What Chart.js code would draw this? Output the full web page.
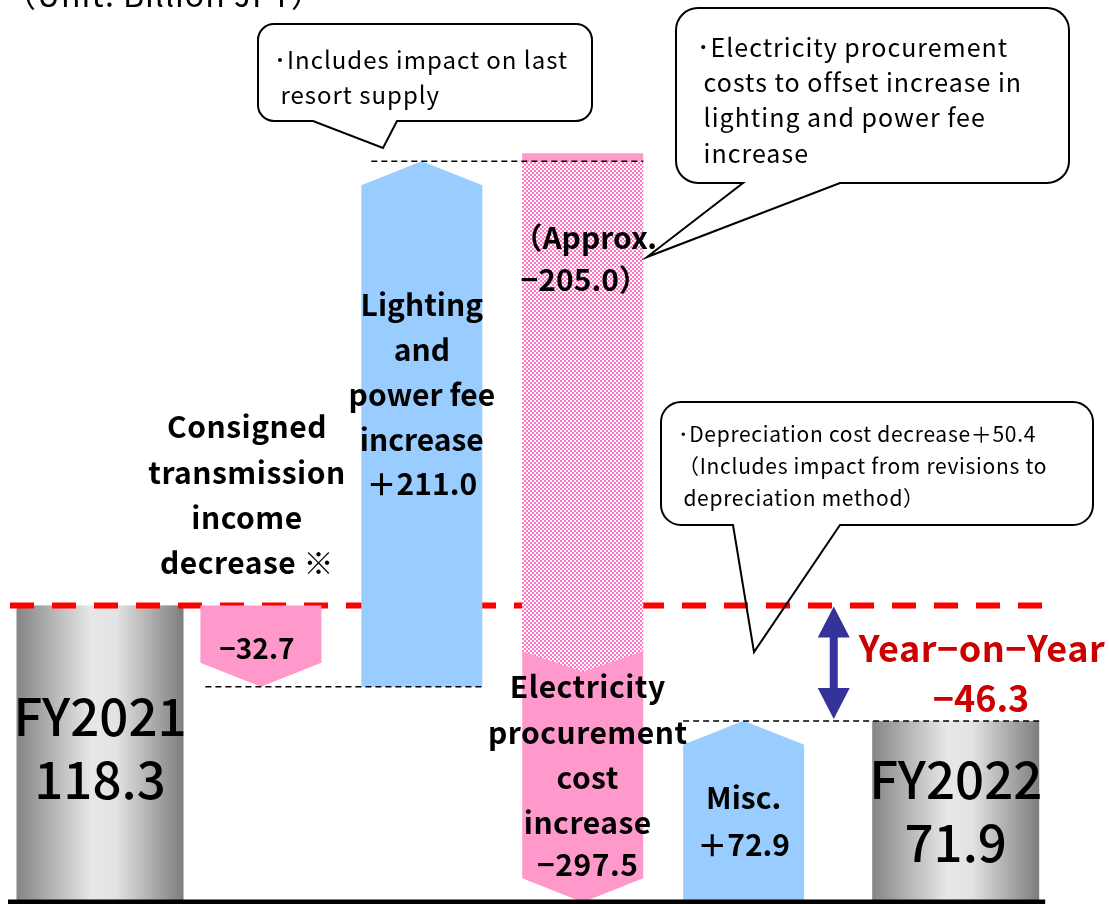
<!DOCTYPE html>
<html>
<head>
<meta charset="utf-8">
<script src="https://cdn.jsdelivr.net/npm/chart.js@4"></script>
<style>
    html, body { margin: 0; padding: 0; background: #ffffff; }
    #wrap { width: 1109px; height: 904px; }
</style>
</head>
<body>
<div id="wrap"><canvas id="chart" width="1109" height="904"></canvas></div>
<script>
// Data (Billion JPY)
const categories = ['FY2021', 'Consigned transmission income decrease', 'Lighting and power fee increase',
    'Electricity procurement cost increase', 'Misc.', 'FY2022'];
const totalValues = [118.3, null, null, null, null, 71.9];
const changeValues = [null, -32.7, 211.0, -297.5, 72.9, null];
const offsetValue = -205.0;   // approx. share of procurement cost offset by fee increase
const yearOnYear = -46.3;

// Text shown on / next to the bars
const barLabels = [
    ['FY2021', '118.3'],
    ['−32.7'],
    ['Lighting', 'and', 'power fee', 'increase', '＋211.0'],
    ['Electricity', 'procurement', 'cost', 'increase', '−297.5'],
    ['Misc.', '＋72.9'],
    ['FY2022', '71.9']
];
const sideLabel = ['Consigned', 'transmission', 'income', 'decrease ※'];
const offsetLabel = ['（Approx.', '−205.0）'];
const yoyLabel = ['Year−on−Year', '−46.3'];
const unitLabel = '（Unit: Billion JPY）';
const notes = [
    ['･Includes impact on last', ' resort supply'],
    ['･Electricity procurement', ' costs to offset increase in', ' lighting and power fee', ' increase'],
    ['･Depreciation cost decrease＋50.4', '（Includes impact from revisions to', ' depreciation method）']
];

// Layout
const COLORS = {
    pink: '#ff99cc',
    hatchPink: '#ff77c4',
    blue: '#99ccff',
    red: '#ff0000',
    darkRed: '#cc0000',
    navy: '#333399',
    black: '#000000'
};
const FONT = '"Noto Sans CJK JP", "Noto Sans", sans-serif';
const FINAL_GAP = 0.318;   // extra room before FY2022 for the year-on-year arrow
const YOY_X = 4.56;
const HEAD = 24;

// Build floating bars
const xPos = i => (i === categories.length - 1 ? i + FINAL_GAP : i);
let running = 0;
const totalData = [];
const changeData = [];
const steps = [];
categories.forEach((c, i) => {
    if (totalValues[i] !== null) {
        totalData.push({ x: xPos(i), y: [0, totalValues[i]] });
        running = totalValues[i];
        steps.push({ from: 0, to: totalValues[i] });
    } else {
        const start = running;
        running = +(running + changeValues[i]).toFixed(1);
        changeData.push({ x: xPos(i), y: [start, running] });
        steps.push({ from: start, to: running });
    }
});

function makeHatch(ctx) {
    const c = document.createElement('canvas');
    c.width = 4;
    c.height = 4;
    const p = c.getContext('2d');
    p.fillStyle = '#ffffff';
    p.fillRect(0, 0, 4, 4);
    p.fillStyle = COLORS.hatchPink;
    p.fillRect(0, 0, 2, 2);
    p.fillRect(2, 2, 2, 2);
    return ctx.createPattern(c, 'repeat');
}

function arrowPath(ctx, left, right, yFlat, yTip, head) {
    const dir = yTip < yFlat ? -1 : 1;
    const cx = (left + right) / 2;
    const shoulder = yTip - dir * head;
    ctx.beginPath();
    ctx.moveTo(left, yFlat);
    ctx.lineTo(left, shoulder);
    ctx.lineTo(cx, yTip);
    ctx.lineTo(right, shoulder);
    ctx.lineTo(right, yFlat);
    ctx.closePath();
}

function dashedLine(ctx, x1, x2, y, width, dash, color) {
    ctx.save();
    ctx.strokeStyle = color;
    ctx.lineWidth = width;
    ctx.setLineDash(dash);
    ctx.beginPath();
    ctx.moveTo(x1, y);
    ctx.lineTo(x2, y);
    ctx.stroke();
    ctx.restore();
}

function callout(ctx, x, y, w, h, r, tailA, tailB, tip) {
    const b = y + h;
    ctx.save();
    ctx.strokeStyle = COLORS.black;
    ctx.lineWidth = 2;
    ctx.beginPath();
    ctx.moveTo(x + r, y);
    ctx.lineTo(x + w - r, y);
    ctx.arcTo(x + w, y, x + w, y + r, r);
    ctx.lineTo(x + w, b - r);
    ctx.arcTo(x + w, b, x + w - r, b, r);
    ctx.lineTo(tailB, b);
    ctx.lineTo(tip[0], tip[1]);
    ctx.lineTo(tailA, b);
    ctx.lineTo(x + r, b);
    ctx.arcTo(x, b, x, b - r, r);
    ctx.lineTo(x, y + r);
    ctx.arcTo(x, y, x + r, y, r);
    ctx.closePath();
    ctx.stroke();
    ctx.restore();
}

function textLines(ctx, lines, x, ys, font, color, align, spacing) {
    ctx.save();
    ctx.font = font;
    ctx.fillStyle = color;
    ctx.textAlign = align || 'center';
    ctx.textBaseline = 'middle';
    ctx.letterSpacing = (spacing || 0) + 'px';
    lines.forEach((t, k) => ctx.fillText(t, x, ys[k]));
    ctx.restore();
}

const waterfallPlugin = {
    id: 'waterfallShapes',
    afterDatasetsDraw(chart) {
        const ctx = chart.ctx;
        const ys = chart.scales.y;
        const totalsMeta = chart.getDatasetMeta(0).data;
        const changeMeta = chart.getDatasetMeta(1).data;
        const bars = [];
        let ti = 0, ci = 0;
        categories.forEach((c, i) => {
            const el = totalValues[i] !== null ? totalsMeta[ti++] : changeMeta[ci++];
            bars.push({ left: el.x - el.width / 2, right: el.x + el.width / 2, cx: el.x,
                y0: ys.getPixelForValue(steps[i].from), y1: ys.getPixelForValue(steps[i].to) });
        });
        const last = bars.length - 1;

        // Total bars (grey cylinder)
        [0, last].forEach(i => {
            const b = bars[i];
            const g = ctx.createLinearGradient(b.left, 0, b.right, 0);
            g.addColorStop(0, '#858585');
            g.addColorStop(0.45, '#e8e8e8');
            g.addColorStop(0.6, '#e2e2e2');
            g.addColorStop(1, '#7d7d7d');
            ctx.fillStyle = g;
            ctx.fillRect(b.left, b.y1, b.right - b.left, b.y0 - b.y1);
        });

        // Previous year level
        const prevY = ys.getPixelForValue(totalValues[0]);
        dashedLine(ctx, 10, bars[last].right + 6, prevY, 6, [24, 18], COLORS.red);

        // Change bars as arrows
        for (let i = 1; i < last; i++) {
            const b = bars[i];
            const top = i === 3 ? b.y0 - 8 : b.y0;
            ctx.fillStyle = changeValues[i] > 0 ? COLORS.blue : COLORS.pink;
            arrowPath(ctx, b.left, b.right, top, b.y1, HEAD);
            ctx.fill();
        }

        // Share of procurement cost offset by fee increase (hatched)
        const e = bars[3];
        const offY = ys.getPixelForValue(steps[3].from + offsetValue);
        ctx.save();
        ctx.fillStyle = makeHatch(ctx);
        ctx.beginPath();
        ctx.moveTo(e.left, e.y0);
        ctx.lineTo(e.right, e.y0);
        ctx.lineTo(e.right, offY - 21);
        ctx.lineTo(e.cx, offY);
        ctx.lineTo(e.left, offY - 21);
        ctx.closePath();
        ctx.fill();
        ctx.restore();

        // Connectors
        dashedLine(ctx, bars[1].left + 5, bars[2].right, bars[1].y1, 1.5, [6, 4], COLORS.black);
        dashedLine(ctx, bars[2].left + 10, bars[3].right, bars[2].y1, 1.5, [6, 4], COLORS.black);
        dashedLine(ctx, bars[4].left, bars[last].right, bars[last].y1, 1.5, [6, 4], COLORS.black);

        // Base line
        ctx.save();
        ctx.strokeStyle = COLORS.black;
        ctx.lineWidth = 5;
        ctx.beginPath();
        ctx.moveTo(8, ys.getPixelForValue(0) + 2);
        ctx.lineTo(bars[last].right + 6, ys.getPixelForValue(0) + 2);
        ctx.stroke();
        ctx.restore();

        // Year-on-year double arrow
        const ax = chart.scales.x.getPixelForValue(YOY_X);
        const aTop = prevY + 1;
        const aBot = ys.getPixelForValue(totalValues[last]) - 2;
        ctx.save();
        ctx.fillStyle = COLORS.navy;
        ctx.strokeStyle = COLORS.navy;
        ctx.lineWidth = 8;
        ctx.beginPath();
        ctx.moveTo(ax, aTop + 25);
        ctx.lineTo(ax, aBot - 25);
        ctx.stroke();
        ctx.beginPath();
        ctx.moveTo(ax, aTop);
        ctx.lineTo(ax + 16, aTop + 31);
        ctx.lineTo(ax - 16, aTop + 31);
        ctx.closePath();
        ctx.fill();
        ctx.beginPath();
        ctx.moveTo(ax, aBot);
        ctx.lineTo(ax + 16, aBot - 31);
        ctx.lineTo(ax - 16, aBot - 31);
        ctx.closePath();
        ctx.fill();
        ctx.restore();

        // Callouts
        callout(ctx, 258, 24, 334, 97, 16, 313, 397, [383, 148]);
        callout(ctx, 676, 8, 393, 175, 22, 743, 840, [647, 257]);
        callout(ctx, 661, 402, 432, 123, 20, 733, 840, [754, 652]);

        // Texts
        const bold = px => 'bold ' + px + 'px ' + FONT;
        const normal = px => px + 'px ' + FONT;
        const medium = px => '500 ' + px + 'px ' + FONT;
        textLines(ctx, [unitLabel], 4, [-5], normal(32), COLORS.black, 'left', 1);
        textLines(ctx, notes[0], 274, [60, 95], normal(24), COLORS.black, 'left', 1);
        textLines(ctx, notes[1], 697, [47, 82, 117, 153], normal(25), COLORS.black, 'left', 1);
        textLines(ctx, notes[2], 678, [434, 466, 498], normal(21), COLORS.black, 'left', 0.7);

        textLines(ctx, barLabels[0], bars[0].cx, [717, 780], medium(51), COLORS.black);
        textLines(ctx, barLabels[1], bars[1].cx - 4, [648], bold(28), COLORS.black);
        textLines(ctx, sideLabel, 247, [427, 473, 518, 563], bold(30), COLORS.black, 'center', 0.5);
        textLines(ctx, barLabels[2], bars[2].cx, [305, 350, 395, 440, 484], bold(30), COLORS.black);
        textLines(ctx, offsetLabel, bars[3].cx + 2, [238, 280], bold(30), COLORS.black);
        textLines(ctx, barLabels[3], bars[3].cx + 5, [687, 733, 778, 823, 865], bold(30), COLORS.black, 'center', 0.5);
        textLines(ctx, barLabels[4], bars[4].cx, [798, 845], bold(30), COLORS.black);
        textLines(ctx, barLabels[5], bars[last].cx, [780, 843], medium(51), COLORS.black);
        textLines(ctx, [yoyLabel[0]], 982, [648], bold(36), COLORS.darkRed, 'center', 0.5);
        textLines(ctx, [yoyLabel[1]], 981, [698], bold(36), COLORS.darkRed);
    }
};

new Chart(document.getElementById('chart'), {
    type: 'bar',
    data: {
        datasets: [{
            label: 'Total',
            data: totalData,
            backgroundColor: 'rgba(0,0,0,0)',
            barThickness: 167,
            grouped: false
        }, {
            label: 'Change',
            data: changeData,
            backgroundColor: 'rgba(0,0,0,0)',
            barThickness: 121,
            grouped: false
        }]
    },
    options: {
        responsive: false,
        animation: false,
        layout: { padding: { left: 0, right: 0, top: 0, bottom: 4 } },
        plugins: {
            legend: { display: false },
            tooltip: { enabled: false }
        },
        scales: {
            x: { type: 'linear', offset: false, min: -0.6215, max: 6.2707, display: false },
            y: { min: 0, max: 361.4, display: false }
        }
    },
    plugins: [waterfallPlugin]
});
</script>
</body>
</html>
